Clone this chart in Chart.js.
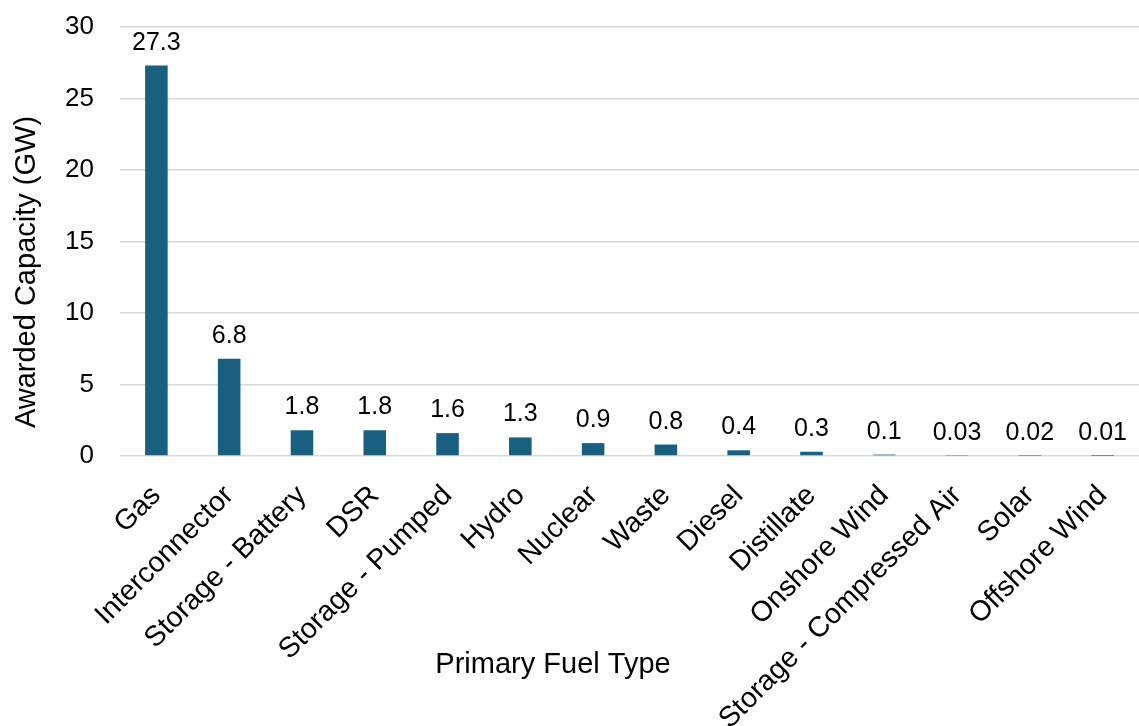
<!DOCTYPE html>
<html>
<head>
<meta charset="utf-8">
<script src="https://cdn.jsdelivr.net/npm/chart.js@4/dist/chart.umd.min.js"></script>
<style>
  html, body { margin: 0; padding: 0; background: #ffffff; overflow: hidden; }
  canvas { display: block; }
</style>
</head>
<body>
<canvas id="capacityChart" width="1139" height="726"></canvas>
<script>
// Awarded capacity by primary fuel type (GW)
const fuelTypes = [
  'Gas', 'Interconnector', 'Storage - Battery', 'DSR', 'Storage - Pumped',
  'Hydro', 'Nuclear', 'Waste', 'Diesel', 'Distillate', 'Onshore Wind',
  'Storage - Compressed Air', 'Solar', 'Offshore Wind'
];
const awardedGW = [27.3, 6.8, 1.8, 1.8, 1.6, 1.3, 0.9, 0.8, 0.4, 0.3, 0.1, 0.03, 0.02, 0.01];
const yTickValues = [0, 5, 10, 15, 20, 25, 30];

const xAxisTitle = 'Primary Fuel Type';
const yAxisTitle = 'Awarded Capacity (GW)';

const FONT = '"Liberation Sans", Arial, sans-serif';
const BAR_COLOR = '#185f80';
const GRID_COLOR = '#d9d9d9';

// Value labels above each bar
const valueLabelPlugin = {
  id: 'valueLabels',
  afterDatasetsDraw(chart) {
    const ctx = chart.ctx;
    const meta = chart.getDatasetMeta(0);
    ctx.save();
    ctx.font = '25px ' + FONT;
    ctx.fillStyle = '#000000';
    ctx.textAlign = 'center';
    ctx.textBaseline = 'alphabetic';
    meta.data.forEach((bar, i) => {
      ctx.fillText(String(awardedGW[i]), bar.x, bar.y - 16);
    });
    ctx.restore();
  }
};

// Axis titles
const axisTitlePlugin = {
  id: 'axisTitles',
  afterDraw(chart) {
    const ctx = chart.ctx;
    ctx.save();
    ctx.font = '29px ' + FONT;
    ctx.fillStyle = '#000000';
    ctx.textAlign = 'center';
    ctx.textBaseline = 'alphabetic';
    ctx.fillText(xAxisTitle, 553, 673);
    ctx.translate(27, 272);
    ctx.rotate(-Math.PI / 2);
    ctx.textBaseline = 'middle';
    ctx.fillText(yAxisTitle, 0, 0);
    ctx.restore();
  }
};

new Chart(document.getElementById('capacityChart'), {
  type: 'bar',
  data: {
    labels: fuelTypes,
    datasets: [{
      data: awardedGW,
      backgroundColor: BAR_COLOR,
      borderWidth: 0,
      categoryPercentage: 1.0,
      barPercentage: 0.31
    }]
  },
  options: {
    responsive: false,
    devicePixelRatio: 1,
    animation: false,
    layout: { padding: { top: 27, right: 0, bottom: 0, left: 0 } },
    plugins: {
      legend: { display: false },
      tooltip: { enabled: false },
      title: { display: false }
    },
    scales: {
      x: {
        offset: true,
        grid: { display: false, drawTicks: false },
        border: { display: false },
        ticks: {
          autoSkip: false,
          maxRotation: 45,
          minRotation: 45,
          padding: 23,
          color: '#000000',
          font: { family: FONT, size: 28.5 }
        },
        afterFit(scale) {
          scale.height = 270;
          scale.paddingLeft = 0;
          scale.paddingRight = 0;
        }
      },
      y: {
        min: 0,
        max: 30,
        afterBuildTicks(scale) {
          scale.ticks = yTickValues.map(v => ({ value: v }));
        },
        grid: { color: GRID_COLOR, lineWidth: 1.5, drawTicks: false },
        border: { display: false },
        ticks: {
          padding: 26,
          color: '#000000',
          font: { family: FONT, size: 26 }
        },
        afterFit(scale) {
          scale.width = 120;
          scale.paddingTop = 0;
          scale.paddingBottom = 0;
        }
      }
    }
  },
  plugins: [valueLabelPlugin, axisTitlePlugin]
});
</script>
</body>
</html>
